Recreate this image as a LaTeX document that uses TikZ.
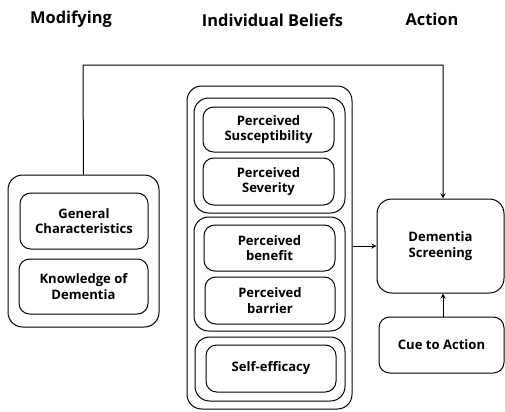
\documentclass[tikz,border=0pt]{standalone}
\usepackage{fontspec}
\setmainfont{Open Sans}
\tikzset{
  box/.style={draw, rounded corners=8pt, align=center, font=\bfseries\fontsize{9.8}{11.5}\selectfont, inner sep=0pt},
  group/.style={draw, rounded corners=11pt, inner sep=0pt},
  head/.style={font=\bfseries\fontsize{12.3}{14}\selectfont},
  >=stealth
}
\begin{document}
\begin{tikzpicture}[x=0.75pt,y=-0.75pt,line width=0.75pt]
  \useasboundingbox (0,0) rectangle (505,411);
  % column titles
  \node[head] (tmod) at (71,19) {Modifying};
  \node[head] (tind) at (272.5,20) {Individual Beliefs};
  \node[head] (tact) at (432,19) {Action};
  % modifying factors
  \node[group, minimum width=113.25pt, minimum height=114pt] (modgroup) at (83.5,251) {};
  \node[box, minimum width=96pt, minimum height=42pt] (general) at (84,221) {General\\Characteristics};
  \node[box, minimum width=96.75pt, minimum height=41.25pt] (knowledge) at (83.5,286.5) {Knowledge of\\Dementia};
  % individual beliefs
  \node[group, minimum width=123.75pt, minimum height=242.25pt] (belief) at (269.5,247.5) {};
  \node[group, minimum width=113.25pt, minimum height=86.25pt] (threat) at (269.5,155.5) {};
  \node[box, minimum width=98.25pt, minimum height=33.75pt] (suscept) at (268.5,129.5) {Perceived\\Susceptibility};
  \node[box, minimum width=98.25pt, minimum height=35.25pt] (severity) at (268.5,181.5) {Perceived\\Severity};
  \node[group, minimum width=113.25pt, minimum height=85.5pt] (balance) at (269.5,274) {};
  \node[box, minimum width=98.25pt, minimum height=34.5pt] (benefit) at (269.5,248) {Perceived\\benefit};
  \node[box, minimum width=97.5pt, minimum height=35.25pt] (barrier) at (270,300.5) {Perceived\\barrier};
  \node[group, minimum width=112.5pt, minimum height=48pt] (efficacy) at (270,369) {};
  \node[box, minimum width=97.5pt, minimum height=35.25pt] (selfeff) at (271,368.5) {Self-efficacy};
  % action
  \node[box, rounded corners=11pt, minimum width=95.25pt, minimum height=70.5pt] (screening) at (440.5,246) {Dementia\\Screening};
  \node[box, minimum width=93.75pt, minimum height=42pt] (cue) at (441.5,345) {Cue to Action};
  % connectors
  \coordinate (turnL) at (83,65);
  \coordinate (turnR) at (443,65);
  \draw[->] (modgroup.north) -- (turnL) -- (turnR) -- (turnR |- screening.north);
  \draw[->] (belief.east |- screening.west) -- (screening.west);
  \draw[->] (cue.north -| turnR) -- (turnR |- screening.south);
\end{tikzpicture}
\end{document}
